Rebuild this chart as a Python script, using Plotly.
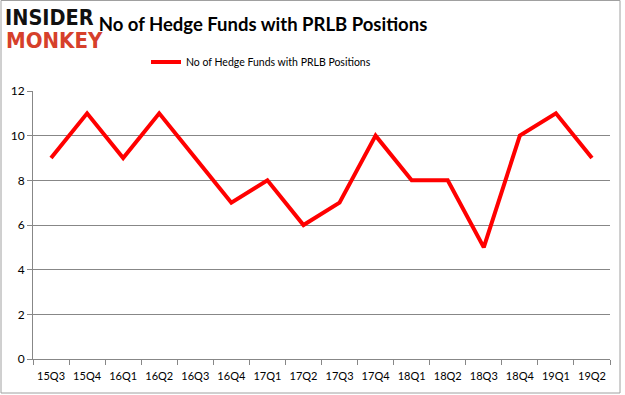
import plotly.graph_objects as go

quarters = ["15Q3", "15Q4", "16Q1", "16Q2", "16Q3", "16Q4", "17Q1", "17Q2",
            "17Q3", "17Q4", "18Q1", "18Q2", "18Q3", "18Q4", "19Q1", "19Q2"]
funds = [9, 11, 9, 11, 9, 7, 8, 6, 7, 10, 8, 8, 5, 10, 11, 9]
series_name = "No of Hedge Funds with PRLB Positions"
title_text = "No of Hedge Funds with PRLB Positions"
y_ticks = [0, 2, 4, 6, 8, 10, 12]

W, H = 625, 395
ML, MR, MT, MB = 33, 15, 91, 36
PW, PH = W - ML - MR, H - MT - MB

fig = go.Figure()
fig.add_trace(go.Scatter(
    x=quarters, y=funds, mode="lines", name=series_name,
    line=dict(color="#ff0000", width=4),
))

grid = "#878787"
fig.update_layout(
    width=W, height=H,
    margin=dict(l=ML, r=MR, t=MT, b=MB),
    paper_bgcolor="white", plot_bgcolor="white",
    font=dict(family="Lato, Liberation Sans, sans-serif", color="#000"),
    title=dict(text="<b>" + title_text + "</b>", x=263 / W, xanchor="center",
               y=1 - 25 / H, yanchor="middle", xref="container", yref="container",
               font=dict(size=18.5, color="#000")),
    showlegend=True,
    legend=dict(orientation="h", x=(146 - ML) / PW, xanchor="left",
                y=(PH + MT - 62) / PH, yanchor="middle",
                font=dict(size=10.5, color="#000"), bgcolor="rgba(0,0,0,0)"),
    xaxis=dict(type="category", showline=True, linecolor=grid, linewidth=1,
               ticks="outside", tickson="boundaries", ticklen=5, tickcolor=grid,
               showgrid=False, tickfont=dict(size=11), tickangle=0,
               ticklabelstandoff=7, range=[-0.5, 15.5]),
    yaxis=dict(range=[0, 12], tickvals=y_ticks, showline=True, linecolor=grid,
               linewidth=1, ticks="outside", ticklen=5, tickcolor=grid,
               showgrid=True, gridcolor=grid, gridwidth=1, zeroline=False,
               tickfont=dict(size=12)),
)

# outer border of the image
fig.add_shape(type="rect", xref="paper", yref="paper",
              x0=(-ML + 1) / PW, x1=1 + (MR - 5) / PW,
              y0=(-MB + 2) / PH, y1=1 + (MT - 0.5) / PH,
              line=dict(color="#a0a0a0", width=1), layer="below")

# logo
logo_font = "DejaVu Sans Condensed, DejaVu Sans, sans-serif"
fig.add_annotation(text="<b>INSIDER</b>", xref="paper", yref="paper",
                   x=(3 - ML) / PW, y=1 + (MT - 17) / PH, xanchor="left", yanchor="middle",
                   showarrow=False, height=22,
                   font=dict(family=logo_font, size=21.5, color="#111"))
fig.add_annotation(text="<b>MONKEY</b>", xref="paper", yref="paper",
                   x=(4 - ML) / PW, y=1 + (MT - 40) / PH, xanchor="left", yanchor="middle",
                   showarrow=False, height=22,
                   font=dict(family=logo_font, size=22, color="#d6402b"))

fig.write_html("out.html", config={"displayModeBar": False},
               post_script="document.body.style.margin='0';document.body.style.overflow='hidden';")
